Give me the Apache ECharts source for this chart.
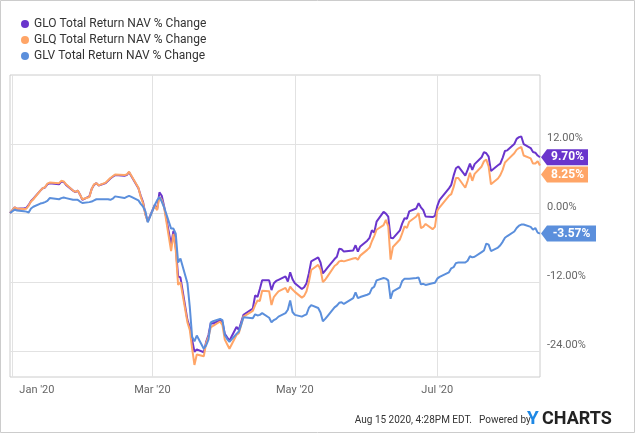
<!DOCTYPE html>
<html>
<head>
<meta charset="utf-8">
<script src="https://cdn.jsdelivr.net/npm/echarts@6/dist/echarts.min.js"></script>
<style>
html,body{margin:0;padding:0;background:#fff;}
#chart{width:635px;height:433px;}
</style>
</head>
<body>
<div id="chart"></div>
<script>
const dates = ['2019-12-31','2020-01-02','2020-01-03','2020-01-06','2020-01-07','2020-01-08','2020-01-09','2020-01-10','2020-01-13','2020-01-14','2020-01-15','2020-01-16','2020-01-17','2020-01-21','2020-01-22','2020-01-23','2020-01-24','2020-01-27','2020-01-28','2020-01-29','2020-01-30','2020-01-31','2020-02-03','2020-02-04','2020-02-05','2020-02-06','2020-02-07','2020-02-10','2020-02-11','2020-02-12','2020-02-13','2020-02-14','2020-02-18','2020-02-19','2020-02-20','2020-02-21','2020-02-24','2020-02-25','2020-02-26','2020-02-27','2020-02-28','2020-03-02','2020-03-03','2020-03-04','2020-03-05','2020-03-06','2020-03-09','2020-03-10','2020-03-11','2020-03-12','2020-03-13','2020-03-16','2020-03-17','2020-03-18','2020-03-19','2020-03-20','2020-03-23','2020-03-24','2020-03-25','2020-03-26','2020-03-27','2020-03-30','2020-03-31','2020-04-01','2020-04-02','2020-04-03','2020-04-06','2020-04-07','2020-04-08','2020-04-09','2020-04-13','2020-04-14','2020-04-15','2020-04-16','2020-04-17','2020-04-20','2020-04-21','2020-04-22','2020-04-23','2020-04-24','2020-04-27','2020-04-28','2020-04-29','2020-04-30','2020-05-01','2020-05-04','2020-05-05','2020-05-06','2020-05-07','2020-05-08','2020-05-11','2020-05-12','2020-05-13','2020-05-14','2020-05-15','2020-05-18','2020-05-19','2020-05-20','2020-05-21','2020-05-22','2020-05-26','2020-05-27','2020-05-28','2020-05-29','2020-06-01','2020-06-02','2020-06-03','2020-06-04','2020-06-05','2020-06-08','2020-06-09','2020-06-10','2020-06-11','2020-06-12','2020-06-15','2020-06-16','2020-06-17','2020-06-18','2020-06-19','2020-06-22','2020-06-23','2020-06-24','2020-06-25','2020-06-26','2020-06-29','2020-06-30','2020-07-01','2020-07-02','2020-07-06','2020-07-07','2020-07-08','2020-07-09','2020-07-10','2020-07-13','2020-07-14','2020-07-15','2020-07-16','2020-07-17','2020-07-20','2020-07-21','2020-07-22','2020-07-23','2020-07-24','2020-07-27','2020-07-28','2020-07-29','2020-07-30','2020-07-31','2020-08-03','2020-08-04','2020-08-05','2020-08-06','2020-08-07','2020-08-10','2020-08-11','2020-08-12','2020-08-13','2020-08-14'];

const GLO = [0,1.0,0.75,0.85,0.9,1.4,2.1,2.5,3.9,4.3,4.45,5.0,5.2,5.0,5.5,5.4,4.9,3.9,3.65,3.9,3.2,2.3,2.9,4.2,4.9,5.2,4.8,5.2,5.6,6.0,6.3,6.6,6.5,6.6,7.1,6.4,4.3,3.0,1.9,-0.2,-1.4,1.4,0.6,3.6,3.0,1.2,-5.5,-3.1,-6.0,-11.0,-11.2,-18.6,-19.8,-22.0,-24.1,-23.7,-24.2,-22.4,-21.2,-19.1,-19.2,-18.6,-19.0,-21.0,-21.6,-22.2,-19.8,-20.3,-19.0,-17.7,-16.6,-14.3,-14.6,-13.2,-11.7,-11.7,-13.4,-12.2,-11.8,-11.6,-11.0,-11.9,-10.3,-11.5,-12.2,-13.2,-12.9,-12.2,-10.5,-8.4,-7.7,-8.6,-10.5,-10.0,-9.5,-8.0,-7.6,-6.2,-6.3,-6.7,-6.5,-5.6,-6.7,-5.8,-4.8,-4.3,-3.0,-3.4,-1.5,0.2,-0.1,-0.6,-4.3,-4.4,-3.0,-1.8,-0.9,-1.0,0.3,0.8,1.7,1.0,0.5,-0.6,-0.7,-0.5,1.2,2.3,4.3,4.9,6.5,7.8,8.1,6.5,7.5,8.6,7.5,8.5,9.7,10.6,10.4,9.8,7.3,8.3,8.6,9.6,10.8,10.9,12.0,12.9,13.2,13.3,12.0,11.3,10.6,10.5,10.0,9.70];

const GLQ = [0,1.0,0.8,0.7,0.75,1.3,2.0,2.4,3.9,4.3,4.5,5.1,5.3,5.2,5.6,5.5,5.0,3.9,3.7,3.9,3.2,2.4,2.8,4.2,5.0,5.2,4.8,5.3,5.7,6.1,6.4,6.7,6.6,6.7,7.2,6.5,4.4,2.8,1.7,-0.3,-1.5,1.3,0.5,2.8,2.3,1.0,-6.6,-3.6,-6.5,-12.5,-12.0,-19.0,-20.3,-23.5,-26.4,-24.6,-24.9,-22.6,-21.5,-19.9,-19.6,-18.85,-19.5,-22.0,-22.8,-23.6,-21.2,-20.9,-19.5,-18.0,-17.0,-16.0,-15.2,-15.3,-13.5,-13.6,-16.0,-14.6,-14.1,-13.6,-13.0,-13.8,-12.8,-13.3,-13.7,-14.7,-14.4,-13.6,-12.0,-9.9,-9.0,-9.8,-12.0,-11.6,-11.0,-9.2,-8.9,-8.4,-8.3,-8.4,-7.9,-7.8,-8.1,-7.4,-6.4,-6.0,-4.9,-4.0,-2.9,-2.1,-1.2,-2.3,-8.1,-5.9,-4.6,-3.5,-2.3,-2.6,-1.5,-0.6,0.0,-2.6,-2.4,-1.9,-2.8,-2.4,0.4,1.0,3.0,3.3,4.5,6.1,6.1,4.4,5.6,7.0,5.6,6.8,8.1,9.0,9.3,8.1,5.0,6.0,6.6,7.5,8.8,9.2,10.4,11.0,11.3,11.5,10.0,9.5,8.6,8.6,9.0,8.25];

const GLV = [0,0.6,0.45,0.3,0.25,0.1,0.8,1.1,1.65,1.75,1.9,2.1,2.6,2.4,2.6,2.7,2.6,2.3,2.3,2.3,2.0,1.75,1.9,2.0,2.2,2.4,2.4,2.4,2.4,2.3,2.5,2.9,2.6,2.8,3.0,2.8,2.2,1.6,1.1,0.3,-1.6,1.4,2.2,2.8,2.0,1.0,-2.7,-2.7,-3.6,-8.6,-7.9,-12.2,-16.3,-21.5,-22.3,-21.3,-23.6,-23.0,-22.0,-19.0,-18.8,-18.4,-18.6,-21.2,-21.9,-22.4,-21.0,-20.6,-19.4,-18.1,-18.3,-17.6,-17.8,-17.7,-17.4,-18.2,-19.0,-18.6,-18.4,-18.0,-17.4,-16.8,-15.2,-17.2,-17.7,-18.0,-17.8,-17.6,-16.5,-16.0,-16.5,-17.3,-18.8,-18.4,-17.9,-16.4,-16.1,-15.6,-15.5,-15.8,-14.8,-13.8,-14.8,-14.6,-14.2,-14.0,-13.1,-12.8,-11.7,-11.3,-11.4,-11.7,-14.9,-13.6,-12.9,-11.8,-11.4,-11.4,-11.4,-11.3,-11.2,-12.4,-12.3,-12.5,-12.2,-12.1,-11.4,-11.1,-10.3,-9.6,-9.4,-8.7,-8.6,-8.6,-8.3,-7.5,-7.7,-7.6,-6.8,-6.5,-5.3,-5.5,-6.6,-6.0,-5.6,-5.0,-4.3,-4.0,-3.2,-2.6,-2.2,-2.0,-2.0,-2.4,-2.9,-2.6,-3.4,-3.57];

const seriesNames = ['GLO Total Return NAV % Change','GLQ Total Return NAV % Change','GLV Total Return NAV % Change'];
const colors = ['#6a35cc','#ffa567','#5b8fdc'];
const yTicks = [-24,-12,0,12];
const xTickDates = ['2020-01-01','2020-03-01','2020-05-01','2020-07-01'];
const monthNames = ['Jan','Feb','Mar','Apr','May','Jun','Jul','Aug','Sep','Oct','Nov','Dec'];

function ts(s){ const p = s.split('-'); return new Date(+p[0], +p[1]-1, +p[2]).getTime(); }

const valueSets = [GLO, GLQ, GLV];
const tagWidths = [47, 47, 55];
const tagShift = [0, 9, 0];

const series = valueSets.map((vals, i) => {
  const last = vals.length - 1;
  const w = tagWidths[i];
  return {
    name: seriesNames[i],
    type: 'line',
    showSymbol: false,
    symbol: 'circle',
    smooth: false,
    color: colors[i],
    lineStyle: {width: 2, color: colors[i]},
    data: dates.map((d, k) => [ts(d), vals[k]]),
    z: 2 + i,
    markPoint: {
      silent: true,
      symbol: 'path://M0,8L6,0L' + w + ',0L' + w + ',16L6,16Z',
      symbolSize: [w, 16],
      symbolKeepAspect: false,
      symbolOffset: [w / 2 + 1, tagShift[i]],
      itemStyle: {color: colors[i]},
      label: {
        show: true,
        position: 'inside',
        offset: [3, 0],
        color: '#fff',
        fontFamily: 'Roboto',
        fontWeight: 'bold',
        fontSize: 12,
        formatter: () => vals[last].toFixed(2) + '%'
      },
      data: [{coord: [ts(dates[last]), vals[last]]}]
    }
  };
});

const chart = echarts.init(document.getElementById('chart'), null, {renderer: 'canvas'});
chart.setOption({
  animation: false,
  backgroundColor: '#fff',
  textStyle: {fontFamily: 'Roboto'},
  legend: {
    orient: 'vertical',
    left: 16,
    top: 13,
    itemWidth: 8,
    itemHeight: 8,
    itemGap: 4,
    icon: 'circle',
    data: seriesNames,
    textStyle: {fontFamily: 'Roboto', fontSize: 12, color: '#333', lineHeight: 12}
  },
  grid: {
    left: 10, right: 95, top: 75, bottom: 56,
    show: true, borderColor: '#cccccc', borderWidth: 1,
    outerBoundsMode: 'none'
  },
  xAxis: {
    type: 'value',
    min: ts('2019-12-31'),
    max: ts('2020-08-14'),
    axisLine: {show: false},
    axisTick: {show: false, customValues: xTickDates.map(ts)},
    splitLine: {show: true, lineStyle: {color: '#e2e2e2', width: 1}},
    axisLabel: {
      customValues: xTickDates.map(ts),
      alignMinLabel: 'left',
      showMinLabel: true,
      margin: 8,
      color: '#666',
      fontFamily: 'Roboto',
      fontSize: 11,
      formatter: (v) => {
        const d = new Date(v);
        const t = monthNames[d.getMonth()] + " '" + String(d.getFullYear()).slice(2);
        return d.getMonth() === 0 ? '{f|' + t + '}' : t;
      },
      rich: {f: {padding: [0, 0, 0, 7], color: '#666', fontFamily: 'Roboto', fontSize: 11}}
    }
  },
  yAxis: {
    type: 'value',
    position: 'right',
    min: -28.5,
    max: 24,
    axisLine: {show: false},
    axisTick: {show: false, customValues: yTicks},
    splitLine: {show: true, lineStyle: {color: '#e2e2e2', width: 1}},
    axisLabel: {
      customValues: yTicks,
      margin: 7,
      verticalAlign: 'bottom',
      color: '#666',
      fontFamily: 'Roboto',
      fontSize: 11,
      formatter: (v) => v.toFixed(2) + '%'
    }
  },
  graphic: [
    {type: 'rect', silent: true, shape: {x: 0.5, y: 0.5, width: 634, height: 432},
     style: {fill: 'none', stroke: '#cccccc', lineWidth: 1}},
    {type: 'text', silent: true, x: 472, y: 420,
     style: {text: 'Aug 15 2020, 4:28PM EDT.', fill: '#333', font: '10px Roboto', textAlign: 'right', textVerticalAlign: 'middle'}},
    {type: 'text', silent: true, x: 479, y: 420,
     style: {text: 'Powered by', fill: '#333', font: '10px Roboto', textAlign: 'left', textVerticalAlign: 'middle'}},
    {type: 'text', silent: true, x: 527, y: 419,
     style: {text: 'Y', fill: '#1e88e5', font: 'bold 19px Roboto', textAlign: 'left', textVerticalAlign: 'middle'}},
    {type: 'text', silent: true, x: 542, y: 419,
     style: {text: 'CHARTS', fill: '#222', font: 'bold 18px Roboto', textAlign: 'left', textVerticalAlign: 'middle', letterSpacing: 2}}
  ],
  series: series
});
</script>
</body>
</html>
